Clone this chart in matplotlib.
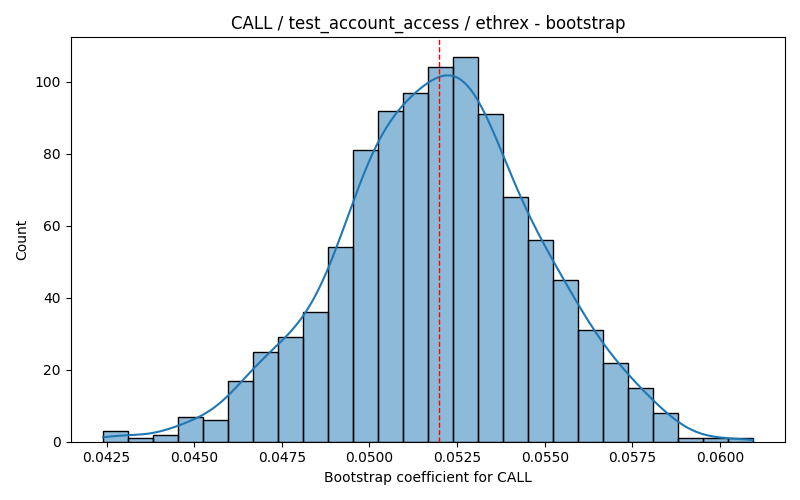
import numpy as np
import pandas as pd
import matplotlib
matplotlib.use("Agg")
import matplotlib.pyplot as plt
import seaborn as sns

# bootstrap histogram
bin_start = 0.04240
bin_end = 0.06093
counts = [3, 1, 2, 7, 6, 17, 25, 29, 36, 54, 81, 92, 97, 104, 107,
          91, 68, 56, 45, 31, 22, 15, 8, 1, 1, 1]
mean_value = 0.05197

edges = np.linspace(bin_start, bin_end, len(counts) + 1)
centers = (edges[:-1] + edges[1:]) / 2
binwidth = edges[1] - edges[0]
df = pd.DataFrame({"coef": centers, "n": counts})

# kde of the binned sample, scott bandwidth, scaled to counts
sample = np.repeat(centers, counts)
bw = sample.std(ddof=1) * len(sample) ** (-1 / 5)
grid = np.linspace(bin_start, bin_end, 300)
dens = np.exp(-0.5 * ((grid[:, None] - sample[None, :]) / bw) ** 2).sum(axis=1)
dens = dens / (np.sqrt(2 * np.pi) * bw) * binwidth

fig, ax = plt.subplots(figsize=(8, 5), dpi=100)
sns.histplot(data=df, x="coef", weights="n", bins=len(counts),
             binrange=(bin_start, bin_end), ax=ax, alpha=0.5,
             edgecolor="black", linewidth=1)
ax.plot(grid, dens, color="C0", linewidth=1.5)
ax.axvline(mean_value, color="red", linestyle="--", linewidth=1)
ax.set_title("CALL / test_account_access / ethrex - bootstrap")
ax.set_xlabel("Bootstrap coefficient for CALL")
ax.set_ylabel("Count")
fig.tight_layout()
fig.savefig("out.png")
